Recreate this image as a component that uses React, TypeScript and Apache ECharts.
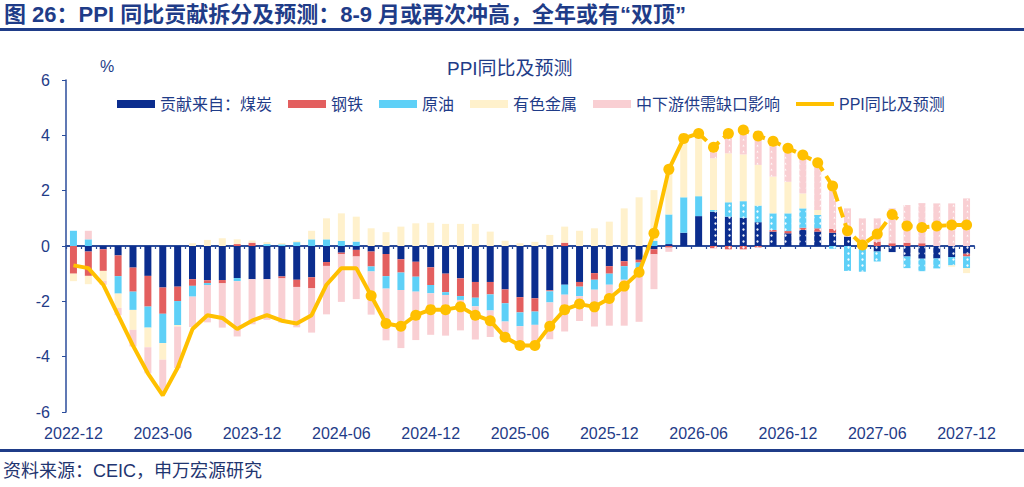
import React, { useEffect, useRef } from "react";
import * as echarts from "echarts";

const months: string[] = [
  "2022-12",
  "2023-01", "2023-02", "2023-03", "2023-04", "2023-05", "2023-06",
  "2023-07", "2023-08", "2023-09", "2023-10", "2023-11", "2023-12",
  "2024-01", "2024-02", "2024-03", "2024-04", "2024-05", "2024-06",
  "2024-07", "2024-08", "2024-09", "2024-10", "2024-11", "2024-12",
  "2025-01", "2025-02", "2025-03", "2025-04", "2025-05", "2025-06",
  "2025-07", "2025-08", "2025-09", "2025-10", "2025-11", "2025-12",
  "2026-01", "2026-02", "2026-03", "2026-04", "2026-05", "2026-06",
  "2026-07", "2026-08", "2026-09", "2026-10", "2026-11", "2026-12",
  "2027-01", "2027-02", "2027-03", "2027-04", "2027-05", "2027-06",
  "2027-07", "2027-08", "2027-09", "2027-10", "2027-11", "2027-12",
];

// 贡献来自：煤炭
const coal: number[] = [
  0, -0.2, -0.12, -0.34, -0.78, -1.08, -1.5, -1.47, -1.2, -1.24, -1.23, -1.16, -1.2,
  -1.2, -1.1, -1.22, -1.13, -0.58, -0.24, -0.14, -0.2, -0.29, -0.48, -0.57, -0.77,
  -1.0, -1.17, -1.3, -1.3, -1.57, -1.85, -1.89, -1.6, -1.4, -1.3, -0.98, -0.73,
  -0.55, -0.5, -0.12, 0.07, 0.48, 1.08, 1.24, 1.06, 1.02, 0.86, 0.52, 0.46,
  0.58, 0.52, 0.48, 0.34, 0, -0.2, -0.22, -0.38, -0.46, -0.45, -0.4, -0.28,
];
// 钢铁
const steel: number[] = [
  -1.0, -0.88, -0.78, -0.75, -0.87, -1.11, -0.95, -0.52, -0.24, -0.1, -0.12, 0.07, 0.12,
  0, -0.07, -0.26, -0.4, -0.14, -0.06, -0.24, -0.54, -0.8, -0.48, -0.54, -0.64,
  -0.67, -0.64, -0.57, -0.45, -0.5, -0.55, -0.48, -0.04, 0.12, -0.17, -0.24, -0.27,
  -0.18, -0.1, -0.18, -0.06, 0, 0, -0.08, -0.12, -0.12, -0.05, 0.06, 0.08,
  0.08, 0.12, 0.14, 0, 0, 0.16, 0.1, 0.12, 0.1, 0, 0, -0.1,
];
// 原油
const oil: number[] = [
  0.55, 0.24, 0, -0.63, -0.66, -0.76, -1.06, -0.87, -0.39, -0.07, 0, -0.11, 0,
  0.07, 0.06, 0.14, 0.24, 0.24, 0.19, 0.16, -0.18, -0.45, -0.63, -0.54, -0.3,
  -0.1, -0.14, -0.31, -0.58, -0.66, -0.5, -0.48, -0.4, -0.36, -0.34, -0.36, -0.4,
  -0.49, -0.5, 0.18, 1.07, 1.28, 0.72, 0.06, 0.52, 0.6, 0.6, 0.6, 0.64,
  0.7, 0.48, -0.1, -0.9, -0.93, -0.36, 0, -0.42, -0.45, -0.36, -0.3, -0.42,
];
// 有色金属
const nonferrous: number[] = [
  -0.27, -0.3, -0.36, -0.52, -0.72, -0.71, -0.6, -0.05, 0.1, 0.22, 0.28, 0.17, 0.08,
  0.07, 0.05, 0.05, 0.31, 0.76, 0.99, 0.9, 0.64, 0.5, 0.7, 0.82, 0.84,
  0.8, 0.8, 0.8, 0.52, 0.19, 0.1, 0.15, 0.4, 0.58, 0.55, 0.64, 0.88,
  1.36, 1.76, 1.84, 1.75, 2.13, 2.08, 1.87, 1.77, 1.69, 1.47, 1.33, 1.14,
  0.54, 0.18, 0, 0, 0, 0, 0, 0, 0, 0, -0.05, -0.18,
];
// 中下游供需缺口影响
const demandGap: number[] = [
  0, 0.31, -0.14, -0.26, -0.6, -0.94, -1.2, -1.5, -1.1, -1.35, -1.6, -2.0, -1.63,
  -1.47, -1.6, -1.46, -1.6, -1.75, -1.72, -1.54, -1.56, -1.87, -2.1, -1.75, -1.5,
  -1.47, -1.1, -1.2, -0.96, -0.69, -0.72, -0.66, -1.33, -1.33, -0.9, -1.33, -1.48,
  -1.66, -1.64, -1.26, -0.15, 0, 0.18, 0.36, 0.72, 0.82, 0.9, 1.2, 1.14,
  1.39, 1.75, 1.65, 1.02, 1.0, 0.84, 1.26, 1.36, 1.45, 1.54, 1.54, 1.72,
];
// PPI同比及预测
const ppi: number[] = [
  -0.7, -0.8, -1.4, -2.5, -3.6, -4.6, -5.4, -4.4, -3.0, -2.5, -2.6, -3.0, -2.7,
  -2.5, -2.7, -2.8, -2.5, -1.4, -0.8, -0.8, -1.8, -2.8, -2.9, -2.5, -2.3,
  -2.3, -2.2, -2.5, -2.7, -3.3, -3.6, -3.6, -2.9, -2.3, -2.1, -2.2, -1.9,
  -1.45, -0.95, 0.46, 2.77, 3.89, 4.07, 3.57, 4.07, 4.19, 3.98, 3.79, 3.53,
  3.29, 3.01, 2.17, 0.55, 0.04, 0.43, 1.14, 0.72, 0.67, 0.72, 0.76, 0.76,
];

const yTicks: number[] = [-6, -4, -2, 0, 2, 4, 6];

const firstMarker = 20; // 2024-08
const lastSolid = 42; // 2026-06
const firstForecastBar = 43; // 2026-07

const NAVY = "#1F3C88";
const GOLD = "#FFC000";
const FONT = "'Liberation Sans', 'Noto Sans CJK SC', sans-serif";

const seriesDefs = [
  { name: "贡献来自：煤炭", data: coal, color: "#0B2D8E", decal: "dots" },
  { name: "钢铁", data: steel, color: "#E35F5F", decal: "dots" },
  { name: "原油", data: oil, color: "#5ED0F7", decal: "dots" },
  { name: "有色金属", data: nonferrous, color: "#FFF1CC", decal: "none" },
  { name: "中下游供需缺口影响", data: demandGap, color: "#F9CFD3", decal: "wave" },
];

function buildBarData(values: number[], decalKind: string) {
  return values.map((v, i) => {
    if (i >= firstForecastBar && decalKind !== "none") {
      return {
        value: v,
        itemStyle: {
          decal: {
            symbol: decalKind === "wave" ? "triangle" : "circle",
            symbolSize: decalKind === "wave" ? 0.7 : 0.8,
            color: "rgba(255,255,255,0.95)",
            dashArrayX: [3, 4],
            dashArrayY: [3, 3],
            rotation: 0,
          },
        },
      };
    }
    return v;
  });
}

export default function App() {
  const ref = useRef<HTMLDivElement>(null);

  useEffect(() => {
    if (!ref.current) return;
    const chart = echarts.init(ref.current, undefined, { renderer: "svg" });

    const barSeries = seriesDefs.map((s) => ({
      name: s.name,
      type: "bar",
      stack: "contrib",
      barWidth: 7,
      xAxisIndex: 0,
      yAxisIndex: 0,
      itemStyle: { color: s.color },
      emphasis: { disabled: true },
      data: buildBarData(s.data, s.decal),
    }));

    const solidData = ppi.map((v, i) => {
      if (i > lastSolid) return null;
      if (i < firstMarker) return { value: v, symbol: "none" };
      return v;
    });
    const dashData = ppi.map((v, i) => {
      if (i < lastSolid) return null;
      if (i === lastSolid) return { value: v, symbol: "none" };
      return v;
    });

    const option: any = {
      animation: false,
      textStyle: { fontFamily: FONT },
      grid: { left: 66, right: 50, top: 80, bottom: 75, containLabel: false },
      legend: {
        left: 112,
        top: 91,
        itemWidth: 38,
        itemHeight: 8,
        itemGap: 16,
        textStyle: { fontSize: 16, color: NAVY, fontFamily: FONT },
        data: [
          { name: "贡献来自：煤炭", icon: "rect" },
          { name: "钢铁", icon: "rect" },
          { name: "原油", icon: "rect" },
          { name: "有色金属", icon: "rect" },
          { name: "中下游供需缺口影响", icon: "rect" },
          {
            name: "PPI同比及预测",
            icon: "path://M0,0L38,0L38,4L0,4Z",
            itemStyle: { color: GOLD, borderWidth: 0 },
          },
        ],
      },
      xAxis: [
        {
          type: "category",
          data: months,
          position: "bottom",
          boundaryGap: true,
          axisLine: { show: true, onZero: true, lineStyle: { color: "#2B4C9B", width: 2 } },
          axisTick: { show: true, interval: 0, length: 3, lineStyle: { color: "#2B4C9B", width: 1.2 } },
          axisLabel: { show: false },
          splitLine: { show: false },
        },
        {
          type: "category",
          data: months,
          position: "bottom",
          boundaryGap: true,
          axisLine: { show: false, onZero: false },
          axisTick: { show: false },
          axisLabel: { show: true, interval: 5, fontSize: 16, color: NAVY, margin: 13, fontFamily: FONT },
          splitLine: { show: false },
        },
      ],
      yAxis: {
        type: "value",
        min: yTicks[0],
        max: yTicks[yTicks.length - 1],
        interval: 2,
        axisLine: { show: true, lineStyle: { color: "#2B4C9B", width: 1.5 } },
        axisTick: { show: true, length: 4, lineStyle: { color: "#2B4C9B" } },
        axisLabel: { fontSize: 16, color: NAVY, margin: 16, fontFamily: FONT },
        splitLine: { show: false },
      },
      series: [
        ...barSeries,
        {
          name: "PPI同比及预测",
          type: "line",
          xAxisIndex: 0,
          yAxisIndex: 0,
          data: solidData,
          symbol: "circle",
          symbolSize: 11,
          showSymbol: true,
          showAllSymbol: true,
          z: 5,
          itemStyle: { color: GOLD },
          lineStyle: { color: GOLD, width: 4 },
          emphasis: { disabled: true },
          connectNulls: false,
        },
        {
          name: "PPI预测",
          type: "line",
          xAxisIndex: 0,
          yAxisIndex: 0,
          data: dashData,
          symbol: "circle",
          symbolSize: 11,
          showSymbol: true,
          showAllSymbol: true,
          z: 5,
          itemStyle: { color: GOLD },
          lineStyle: { color: GOLD, width: 4, type: [11, 6] },
          emphasis: { disabled: true },
          connectNulls: false,
        },
      ],
      graphic: [
        {
          type: "text",
          x: 4,
          y: 3,
          style: {
            text: "图 26：PPI 同比贡献拆分及预测：8-9 月或再次冲高，全年或有“双顶”",
            font: `bold 22px ${FONT}`,
            fill: NAVY,
          },
        },
        {
          type: "rect",
          shape: { x: 0, y: 28, width: 1024, height: 3 },
          style: { fill: NAVY },
        },
        {
          type: "text",
          x: 100,
          y: 58,
          style: { text: "%", font: `16px ${FONT}`, fill: NAVY },
        },
        {
          type: "text",
          x: 447,
          y: 59,
          style: { text: "PPI同比及预测", font: `19px ${FONT}`, fill: NAVY },
        },
        {
          type: "rect",
          shape: { x: 0, y: 449, width: 1024, height: 3 },
          style: { fill: NAVY },
        },
        {
          type: "text",
          x: 3,
          y: 462,
          style: { text: "资料来源：CEIC，申万宏源研究", font: `18px ${FONT}`, fill: "#1F3570" },
        },
      ],
    };

    chart.setOption(option);
    return () => chart.dispose();
  }, []);

  return (
    <div
      ref={ref}
      style={{ position: "fixed", left: 0, top: 0, width: 1024, height: 487, background: "#ffffff" }}
    />
  );
}
